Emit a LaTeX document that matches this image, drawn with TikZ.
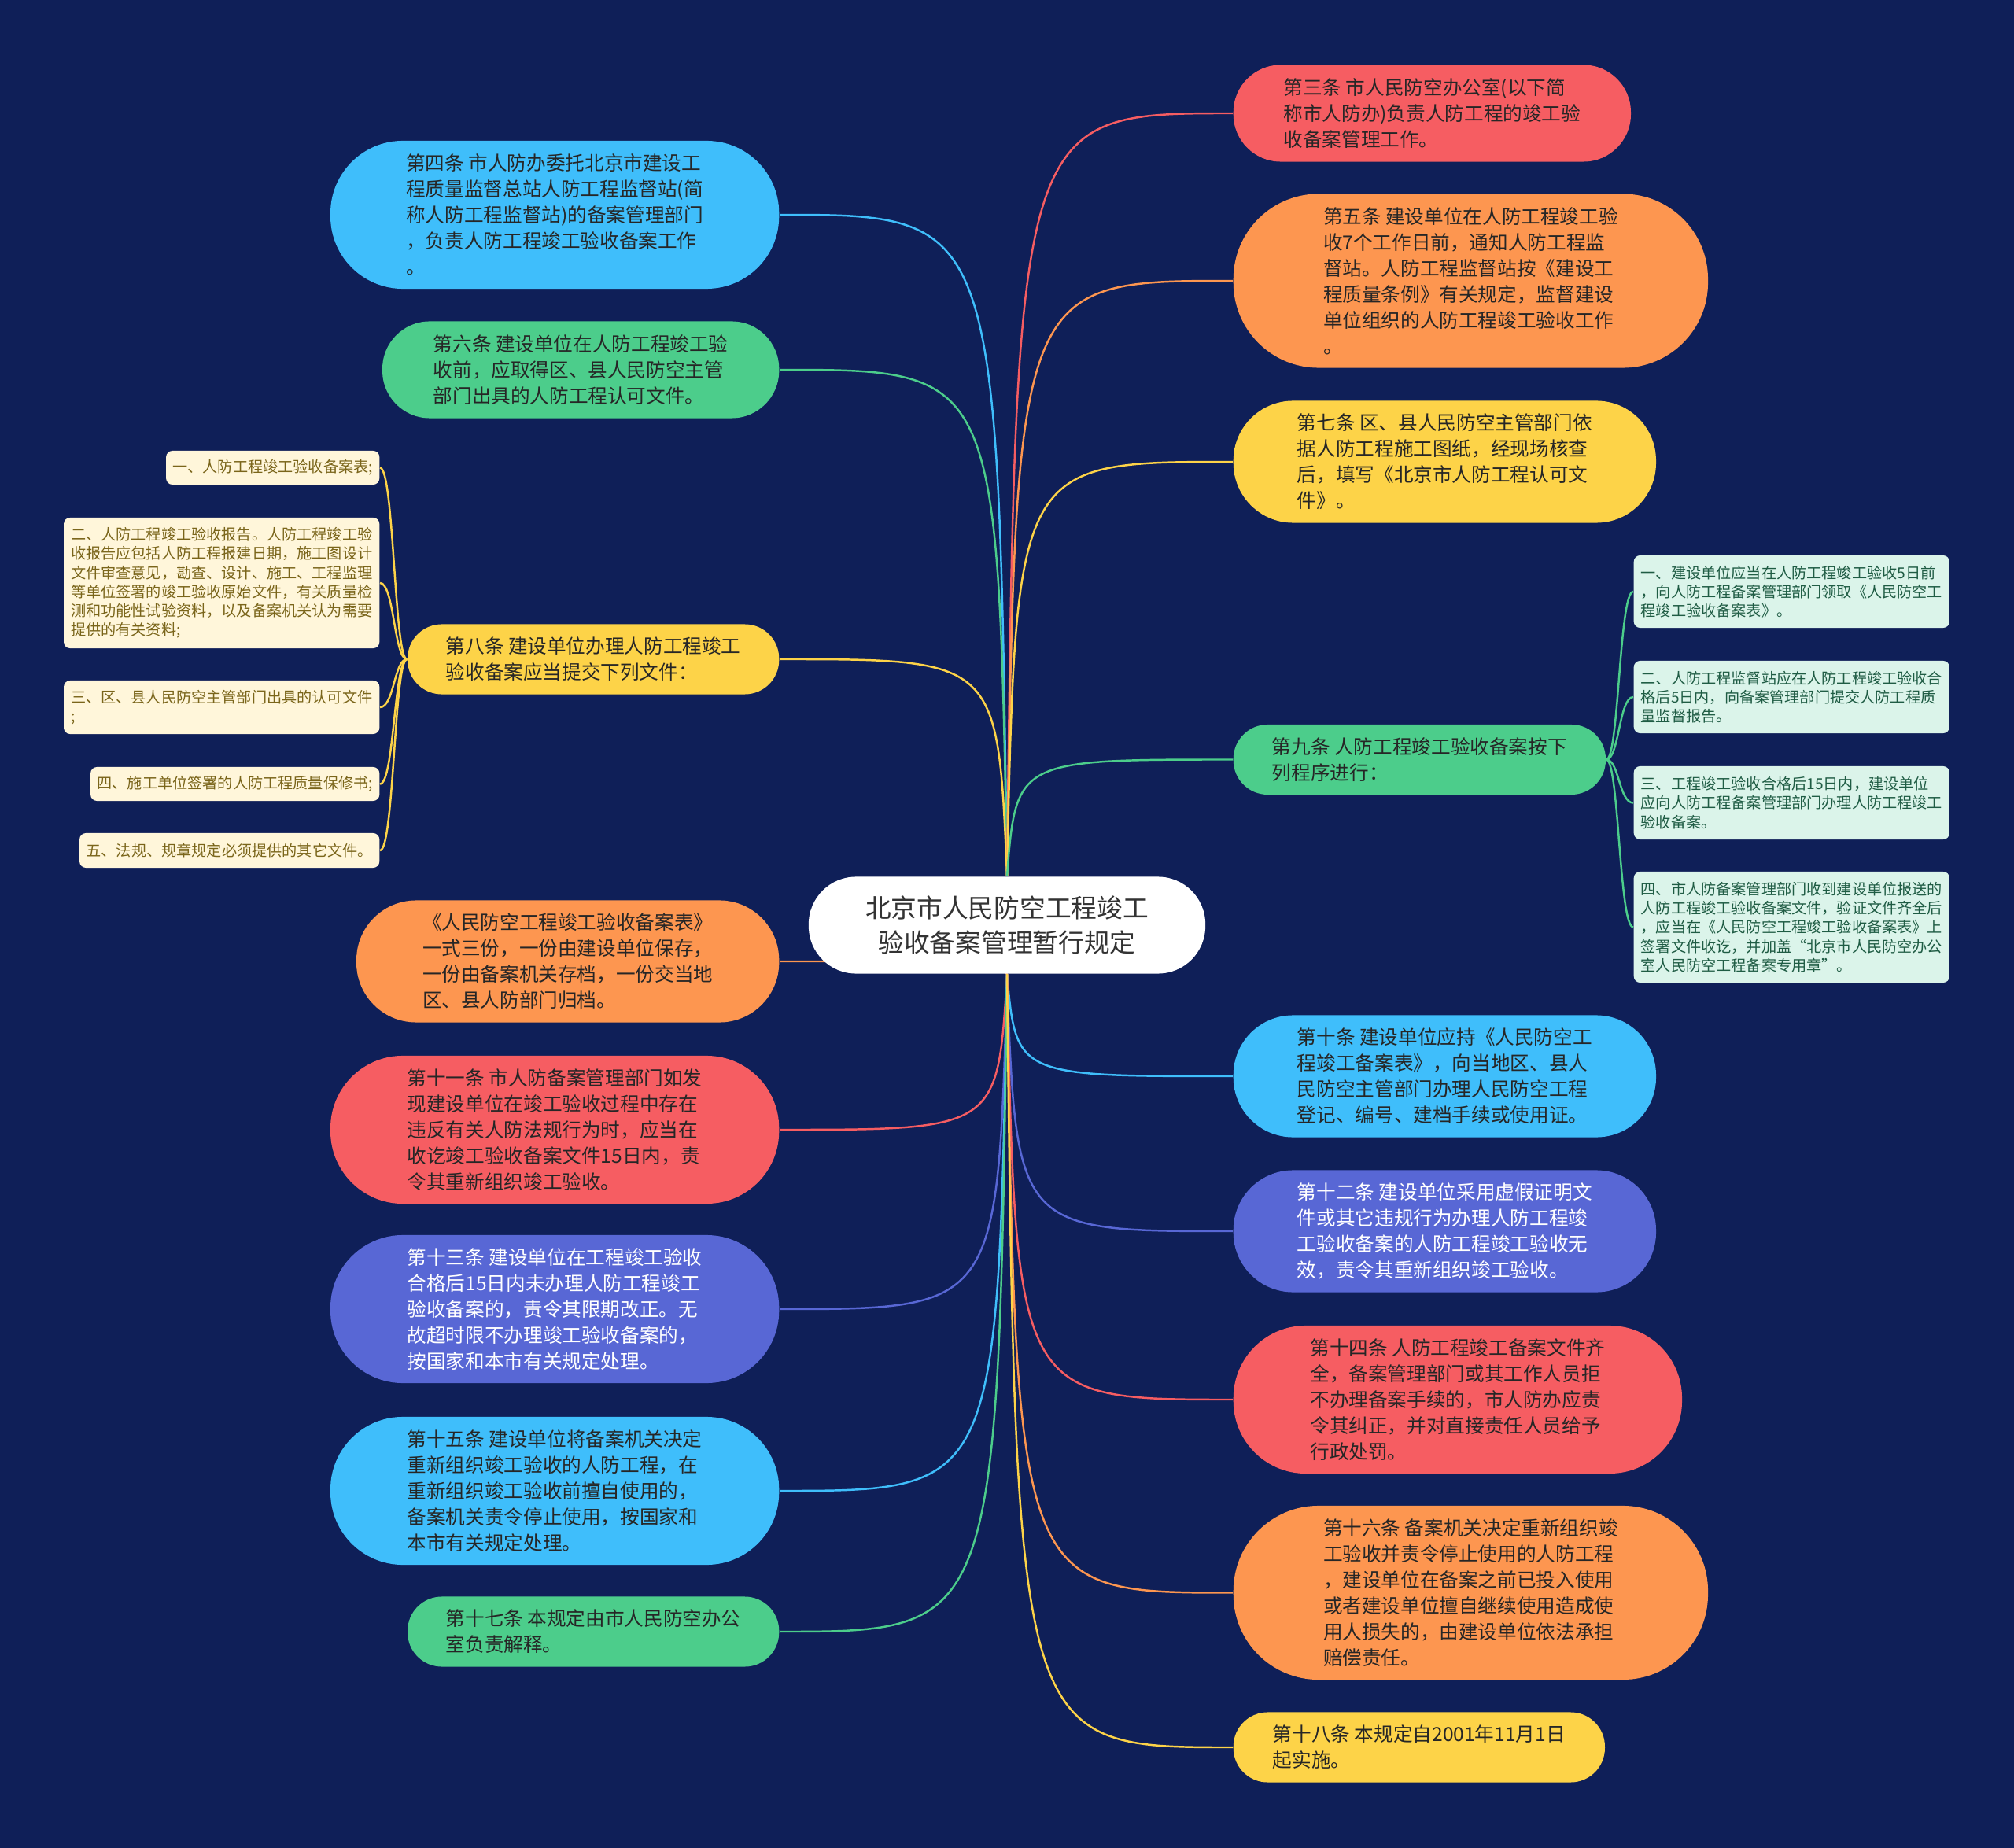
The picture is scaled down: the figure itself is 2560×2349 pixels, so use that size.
\documentclass[tikz,border=0pt]{standalone}
\usepackage{fontspec}
\newfontfamily\hanzi{Noto Sans CJK SC}
\usetikzlibrary{backgrounds,calc}

\definecolor{bgnavy}{HTML}{0F1F58}
\definecolor{cred}{HTML}{F65D62}
\definecolor{corange}{HTML}{FD9650}
\definecolor{cyellow}{HTML}{FDD348}
\definecolor{cgreen}{HTML}{4CCD8B}
\definecolor{cblue}{HTML}{3FBEFB}
\definecolor{cpurple}{HTML}{5867D5}
\definecolor{ccream}{HTML}{FFF6DA}
\definecolor{creamtext}{HTML}{7A651A}
\definecolor{cmint}{HTML}{DBF4EA}
\definecolor{minttext}{HTML}{1F5C44}

\begin{document}
\begin{tikzpicture}[x=0.01cm, y=-0.01cm,
  topic/.style={rectangle, inner sep=0pt, align=left, text=black!85,
    font=\hanzi\fontsize{7pt}{9.4pt}\selectfont},
  boxsize/.style 2 args={minimum width=#1, minimum height=#2, rounded corners={0.49*#2}},
  lefttopic/.style={topic, anchor=east},
  righttopic/.style={topic, anchor=west},
  item/.style={rectangle, rounded corners=0.08cm, inner sep=0pt, align=left,
    font=\hanzi\fontsize{5.45pt}{6.9pt}\selectfont},
  leftitem/.style={item, fill=ccream, text=creamtext, anchor=east},
  rightitem/.style={item, fill=cmint, text=minttext, anchor=west, minimum width=4.01cm},
  link/.style={line width=0.7pt},
  ]
 \useasboundingbox (0,0) rectangle (2560,2349);

 % root
 \node [fill=white, boxsize={5.04cm}{1.23cm}, align=center, text=black!80,
   font=\hanzi\fontsize{9.3pt}{12.5pt}\selectfont] (root) at (1280,1176)
   {北京市人民防空工程竣工\\验收备案管理暂行规定};

 % left branches
 \node [lefttopic, fill=cblue, boxsize={5.70cm}{1.88cm}] (n4) at (991,273) {
   第四条 市人防办委托北京市建设工\\
   程质量监督总站人防工程监督站(简\\
   称人防工程监督站)的备案管理部门\\
   ，负责人防工程竣工验收备案工作\\
   。};
 \node [lefttopic, fill=cgreen, boxsize={5.04cm}{1.23cm}] (n6) at (991,470) {
   第六条 建设单位在人防工程竣工验\\
   收前，应取得区、县人民防空主管\\
   部门出具的人防工程认可文件。};
 \node [lefttopic, fill=cyellow, boxsize={4.72cm}{0.89cm}] (n8) at (991,838) {
   第八条 建设单位办理人防工程竣工\\
   验收备案应当提交下列文件：};
 \node [lefttopic, fill=corange, boxsize={5.37cm}{1.55cm}] (ntab) at (991,1222) {
   《人民防空工程竣工验收备案表》\\
   一式三份，一份由建设单位保存，\\
   一份由备案机关存档，一份交当地\\
   区、县人防部门归档。};
 \node [lefttopic, fill=cred, boxsize={5.70cm}{1.88cm}] (n11) at (991,1436) {
   第十一条 市人防备案管理部门如发\\
   现建设单位在竣工验收过程中存在\\
   违反有关人防法规行为时，应当在\\
   收讫竣工验收备案文件15日内，责\\
   令其重新组织竣工验收。};
 \node [lefttopic, fill=cpurple, text=white, boxsize={5.70cm}{1.88cm}] (n13) at (991,1664) {
   第十三条 建设单位在工程竣工验收\\
   合格后15日内未办理人防工程竣工\\
   验收备案的，责令其限期改正。无\\
   故超时限不办理竣工验收备案的，\\
   按国家和本市有关规定处理。};
 \node [lefttopic, fill=cblue, boxsize={5.70cm}{1.88cm}] (n15) at (991,1895) {
   第十五条 建设单位将备案机关决定\\
   重新组织竣工验收的人防工程，在\\
   重新组织竣工验收前擅自使用的，\\
   备案机关责令停止使用，按国家和\\
   本市有关规定处理。};
 \node [lefttopic, fill=cgreen, boxsize={4.72cm}{0.89cm}] (n17) at (991,2074) {
   第十七条 本规定由市人民防空办公\\
   室负责解释。};

 % files listed under article 8
 \node [leftitem, minimum width=2.71cm, minimum height=0.43cm] (la) at (483,594.5) {
   一、人防工程竣工验收备案表;};
 \node [leftitem, minimum width=4.01cm, minimum height=1.66cm] (lb) at (483,741) {
   二、人防工程竣工验收报告。人防工程竣工验\\
   收报告应包括人防工程报建日期，施工图设计\\
   文件审查意见，勘查、设计、施工、工程监理\\
   等单位签署的竣工验收原始文件，有关质量检\\
   测和功能性试验资料，以及备案机关认为需要\\
   提供的有关资料;};
 \node [leftitem, minimum width=4.01cm, minimum height=0.68cm] (lc) at (483,899) {
   三、区、县人民防空主管部门出具的认可文件\\
   ;};
 \node [leftitem, minimum width=3.67cm, minimum height=0.43cm] (ld) at (483,996.5) {
   四、施工单位签署的人防工程质量保修书;};
 \node [leftitem, minimum width=3.81cm, minimum height=0.44cm] (le) at (483,1081) {
   五、法规、规章规定必须提供的其它文件。};

 % right branches
 \node [righttopic, fill=cred, boxsize={5.05cm}{1.23cm}] (n3) at (1567,144) {
   第三条 市人民防空办公室(以下简\\
   称市人防办)负责人防工程的竣工验\\
   收备案管理工作。};
 \node [righttopic, fill=corange, boxsize={6.03cm}{2.21cm}] (n5) at (1567,357) {
   第五条 建设单位在人防工程竣工验\\
   收7个工作日前，通知人防工程监\\
   督站。人防工程监督站按《建设工\\
   程质量条例》有关规定，监督建设\\
   单位组织的人防工程竣工验收工作\\
   。};
 \node [righttopic, fill=cyellow, boxsize={5.37cm}{1.55cm}] (n7) at (1567,587) {
   第七条 区、县人民防空主管部门依\\
   据人防工程施工图纸，经现场核查\\
   后，填写《北京市人防工程认可文\\
   件》。};
 \node [righttopic, fill=cgreen, boxsize={4.73cm}{0.89cm}] (n9) at (1567,965.5) {
   第九条 人防工程竣工验收备案按下\\
   列程序进行：};
 \node [righttopic, fill=cblue, boxsize={5.37cm}{1.55cm}] (n10) at (1567,1368) {
   第十条 建设单位应持《人民防空工\\
   程竣工备案表》，向当地区、县人\\
   民防空主管部门办理人民防空工程\\
   登记、编号、建档手续或使用证。};
 \node [righttopic, fill=cpurple, text=white, boxsize={5.37cm}{1.55cm}] (n12) at (1567,1565) {
   第十二条 建设单位采用虚假证明文\\
   件或其它违规行为办理人防工程竣\\
   工验收备案的人防工程竣工验收无\\
   效，责令其重新组织竣工验收。};
 \node [righttopic, fill=cred, boxsize={5.70cm}{1.88cm}] (n14) at (1567,1779) {
   第十四条 人防工程竣工备案文件齐\\
   全，备案管理部门或其工作人员拒\\
   不办理备案手续的，市人防办应责\\
   令其纠正，并对直接责任人员给予\\
   行政处罚。};
 \node [righttopic, fill=corange, boxsize={6.03cm}{2.21cm}] (n16) at (1567,2024.5) {
   第十六条 备案机关决定重新组织竣\\
   工验收并责令停止使用的人防工程\\
   ，建设单位在备案之前已投入使用\\
   或者建设单位擅自继续使用造成使\\
   用人损失的，由建设单位依法承担\\
   赔偿责任。};
 \node [righttopic, fill=cyellow, boxsize={4.72cm}{0.89cm}] (n18) at (1567,2221) {
   第十八条 本规定自2001年11月1日\\
   起实施。};

 % steps listed under article 9
 \node [rightitem, minimum height=0.92cm] (ra) at (2076,752) {
   一、建设单位应当在人防工程竣工验收5日前\\
   ，向人防工程备案管理部门领取《人民防空工\\
   程竣工验收备案表》。};
 \node [rightitem, minimum height=0.92cm] (rb) at (2076,886) {
   二、人防工程监督站应在人防工程竣工验收合\\
   格后5日内，向备案管理部门提交人防工程质\\
   量监督报告。};
 \node [rightitem, minimum height=0.93cm] (rc) at (2076,1020.5) {
   三、工程竣工验收合格后15日内，建设单位\\
   应向人防工程备案管理部门办理人防工程竣工\\
   验收备案。};
 \node [rightitem, minimum height=1.41cm] (rd) at (2076,1178.5) {
   四、市人防备案管理部门收到建设单位报送的\\
   人防工程竣工验收备案文件，验证文件齐全后\\
   ，应当在《人民防空工程竣工验收备案表》上\\
   签署文件收讫，并加盖“北京市人民防空办公\\
   室人民防空工程备案专用章”。};

 \coordinate (lbus) at (501,838);
 \coordinate (rbus) at (2058,965.5);

 \begin{scope}[on background layer]
  \fill [bgnavy] (0,0) rectangle (2560,2349);
  % root to articles, bend point just off the root's axis
  \foreach \n/\c in {n4/cblue, n6/cgreen, n8/cyellow}
    \draw [link, \c] (root.north) .. controls ($(root.north |- \n.east)!.04!(\n.east)$) .. (\n.east);
  \foreach \n/\c in {n3/cred, n5/corange, n7/cyellow, n9/cgreen}
    \draw [link, \c] (root.north) .. controls ($(root.north |- \n.west)!.04!(\n.west)$) .. (\n.west);
  \foreach \n/\c in {ntab/corange, n11/cred, n13/cpurple, n15/cblue, n17/cgreen}
    \draw [link, \c] (root.south) .. controls ($(root.south |- \n.east)!.04!(\n.east)$) .. (\n.east);
  \foreach \n/\c in {n10/cblue, n12/cpurple, n14/cred, n16/corange, n18/cyellow}
    \draw [link, \c] (root.south) .. controls ($(root.south |- \n.west)!.04!(\n.west)$) .. (\n.west);
  % articles to their items
  \foreach \n in {la, lb, lc, ld, le}
    \draw [link, cyellow] (n8.west) .. controls (lbus) and (lbus |- \n.east) .. (\n.east);
  \foreach \n in {ra, rb, rc, rd}
    \draw [link, cgreen] (n9.east) .. controls (rbus) and (rbus |- \n.west) .. (\n.west);
 \end{scope}
\end{tikzpicture}
\end{document}
